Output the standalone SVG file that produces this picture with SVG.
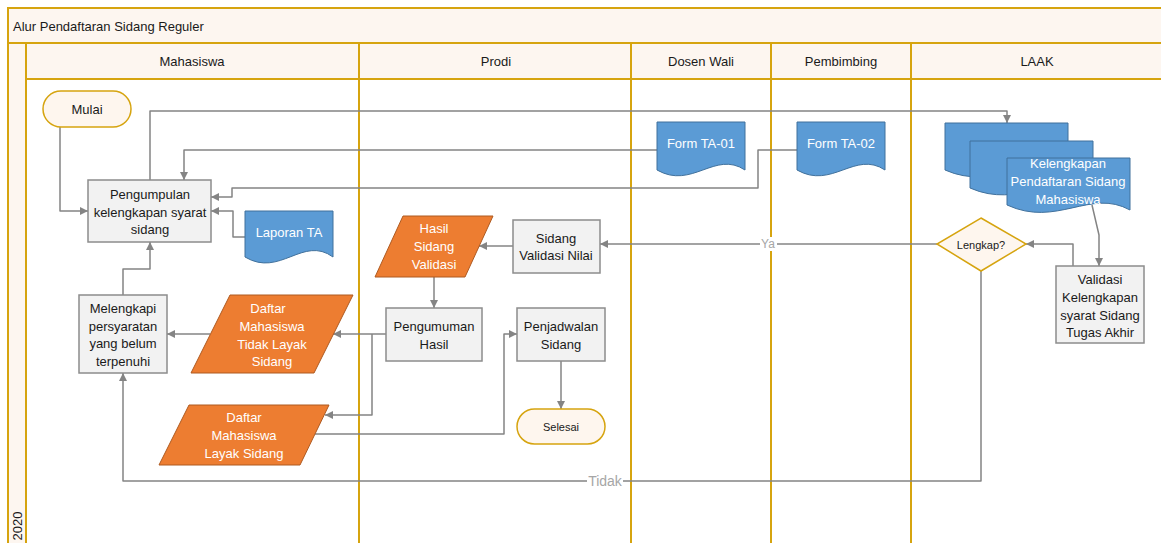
<svg xmlns="http://www.w3.org/2000/svg" width="1161" height="543" viewBox="0 0 1161 543">
<style>
text{font-family:"Liberation Sans",Arial,sans-serif;font-size:13px;fill:#1a1a1a;text-anchor:middle;dominant-baseline:central}
.lane{fill:#fdf6f0;stroke:#d6a40f;stroke-width:2}
.ln{stroke:#d6a40f;stroke-width:2;fill:none}
.box{fill:#f2f2f2;stroke:#8c8c8c;stroke-width:1.5}
.term{fill:#fef6ee;stroke:#d6a40f;stroke-width:1.5}
.doc{fill:#5b9bd5;stroke:#41719c;stroke-width:1}
.par{fill:#ed7d31;stroke:#ae5a21;stroke-width:1}
.w{fill:#ffffff}
.c{fill:none;stroke:#848484;stroke-width:1.5;stroke-linejoin:round}
.a{marker-end:url(#arr)}
.lbl{fill:#a6a6a6}
.sm{font-size:11px}
</style>
<defs>
<marker id="arr" viewBox="0 0 10 10" refX="10" refY="5" markerWidth="8" markerHeight="8" markerUnits="userSpaceOnUse" orient="auto">
<path d="M0,0 L10,5 L0,10 z" fill="#848484"/>
</marker>
</defs>
<rect width="1161" height="543" fill="#ffffff"/>
<g id="pool">
<rect class="lane" x="8" y="8" width="1165" height="35"/>
<rect class="lane" x="8" y="43" width="18" height="510"/>
<rect class="lane" x="26" y="43" width="1147" height="36"/>
<path class="ln" d="M26,43 V543 M359,43 V543 M631,43 V543 M771,43 V543 M911,43 V543"/>
<text x="13" y="26" style="text-anchor:start">Alur Pendaftaran Sidang Reguler</text>
<text x="192" y="61">Mahasiswa</text>
<text x="496" y="61">Prodi</text>
<text x="701" y="61">Dosen Wali</text>
<text x="841" y="61">Pembimbing</text>
<text x="1037" y="61">LAAK</text>
<text transform="translate(17,526) rotate(-90)">2020</text>
</g>
<g id="connectors">
<path class="c a" d="M60,127 V211 H88"/>
<path class="c a" d="M150,180 V111 H1007 V123"/>
<path class="c a" d="M657,150 H184 V180"/>
<path class="c a" d="M797,150 H758 V188 H232 V197 H211"/>
<path class="c a" d="M245,237 H233 V211 H211"/>
<path class="c a" d="M123,295 V269 H150 V242"/>
<path class="c a" d="M210,334 H167"/>
<path class="c a" d="M386,334 H333"/>
<path class="c a" d="M372,334 V415 H325"/>
<path class="c a" d="M315,434 H504 V334 H517"/>
<path class="c a" d="M561,361 V409"/>
<path class="c a" d="M434,277 V308"/>
<path class="c a" d="M513,246 H479"/>
<path class="c a" d="M937,244 H600"/>
<path class="c a" d="M981,271 V481 H123 V373"/>
<path class="c a" d="M1092,205 L1099,235 V266"/>
<path class="c a" d="M1073,266 V244 H1026"/>
<rect x="760" y="237" width="17" height="14" fill="#ffffff"/>
<text class="lbl" x="768" y="244" style="font-size:12px">Ya</text>
<rect x="587" y="473" width="36" height="16" fill="#ffffff"/>
<text class="lbl" x="605" y="481" style="font-size:14px">Tidak</text>
</g>
<g id="mulai">
<rect class="term" x="43" y="91" width="88" height="36" rx="18"/>
<text x="87" y="109">Mulai</text>
</g>
<g id="pengumpulan">
<rect class="box" x="88" y="180" width="123" height="62"/>
<text x="150" y="194">Pengumpulan</text>
<text x="150" y="212">kelengkapan syarat</text>
<text x="150" y="229">sidang</text>
</g>
<g id="laporan-ta">
<path class="doc" d="M245,211 H333 V257 C303,235 280,278 245,257 Z"/>
<text class="w" x="289" y="232">Laporan TA</text>
</g>
<g id="melengkapi">
<rect class="box" x="79" y="295" width="88" height="78"/>
<text x="123" y="308">Melengkapi</text>
<text x="123" y="326">persyaratan</text>
<text x="123" y="343">yang belum</text>
<text x="123" y="361">terpenuhi</text>
</g>
<g id="tidak-layak">
<polygon class="par" points="230,295 353,295 314,373 191,373"/>
<text class="w" x="268" y="308">Daftar</text>
<text class="w" x="272" y="326">Mahasiswa</text>
<text class="w" x="272" y="344">Tidak Layak</text>
<text class="w" x="272" y="361">Sidang</text>
</g>
<g id="layak">
<polygon class="par" points="189,405 329,405 300,465 159,465"/>
<text class="w" x="244" y="417">Daftar</text>
<text class="w" x="244" y="435">Mahasiswa</text>
<text class="w" x="244" y="453">Layak Sidang</text>
</g>
<g id="hasil-sidang-validasi">
<polygon class="par" points="403,216 493,216 465,277 375,277"/>
<text class="w" x="434" y="228">Hasil</text>
<text class="w" x="434" y="246">Sidang</text>
<text class="w" x="434" y="264">Validasi</text>
</g>
<g id="sidang-validasi-nilai">
<rect class="box" x="513" y="220" width="87" height="53"/>
<text x="556" y="238">Sidang</text>
<text x="556" y="255">Validasi Nilai</text>
</g>
<g id="pengumuman">
<rect class="box" x="386" y="308" width="96" height="53"/>
<text x="434" y="326">Pengumuman</text>
<text x="434" y="344">Hasil</text>
</g>
<g id="penjadwalan">
<rect class="box" x="517" y="308" width="88" height="53"/>
<text x="561" y="326">Penjadwalan</text>
<text x="561" y="344">Sidang</text>
</g>
<g id="selesai">
<rect class="term" x="517" y="409" width="88" height="35" rx="17.5"/>
<text class="sm" x="561" y="427">Selesai</text>
</g>
<g id="form-ta-01">
<path class="doc" d="M657,122 H745 V170 C715,150 692,190 657,170 Z"/>
<text class="w" x="701" y="143">Form TA-01</text>
</g>
<g id="form-ta-02">
<path class="doc" d="M797,122 H885 V170 C855,150 832,190 797,170 Z"/>
<text class="w" x="841" y="143">Form TA-02</text>
</g>
<g id="kelengkapan">
<path class="doc" d="M945,123 H1068 V174 C1028,152 995,192 945,170 Z"/>
<path class="doc" d="M970,141 H1093 V192 C1053,170 1020,210 970,188 Z"/>
<path class="doc" d="M1007,158 H1130 V210 C1090,188 1057,228 1007,205 Z"/>
<text class="w" x="1068" y="163">Kelengkapan</text>
<text class="w" x="1068" y="181">Pendaftaran Sidang</text>
<text class="w" x="1068" y="199">Mahasiswa</text>
</g>
<g id="lengkap">
<polygon class="term" points="981,218 1026,244 981,271 937,244"/>
<text class="sm" x="981" y="245">Lengkap?</text>
</g>
<g id="validasi">
<rect class="box" x="1056" y="266" width="88" height="77"/>
<text x="1100" y="279">Validasi</text>
<text x="1100" y="297">Kelengkapan</text>
<text x="1100" y="315">syarat Sidang</text>
<text x="1100" y="332">Tugas Akhir</text>
</g>
</svg>
